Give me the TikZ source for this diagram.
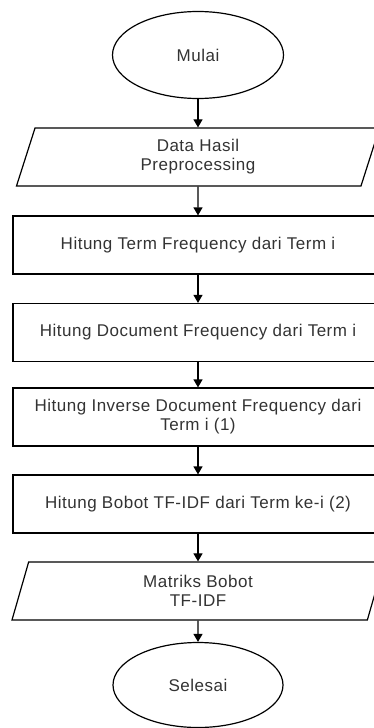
\documentclass[tikz,border=0pt]{standalone}
\usepackage{fontspec}
\setmainfont{Liberation Sans}[LetterSpace=3]
\usetikzlibrary{shapes.geometric,arrows.meta}
\definecolor{teks}{RGB}{51,51,51}

\begin{document}
\begin{tikzpicture}[x=1pt,y=-1pt,line width=1.2pt,
		>={Triangle[width=9pt,length=8pt]},
		every node/.style={font=\fontsize{17}{19}\selectfont, text=teks, inner sep=0pt, align=center},
		proses/.style={draw, rectangle, minimum width=370, minimum height=58},
		data/.style={draw, trapezium, trapezium left angle=62, trapezium right angle=118, trapezium stretches body, minimum height=58}]
		\useasboundingbox (0,0) rectangle (373,728);
		
		\node[draw, ellipse, minimum width=171, minimum height=87] (M) at (198,55) {Mulai};
		\node[data, minimum width=363] (D) at (198,157) {Data Hasil\\Preprocessing};
		\node[proses] (TF) at (198,245) {Hitung Term Frequency dari Term i};
		\node[proses] (DF) at (198,332.5) {Hitung Document Frequency dari Term i};
		\node[proses] (IDF) at (198,417) {Hitung Inverse Document Frequency dari\\Term i (1)};
		\node[proses] (B) at (198,504) {Hitung Bobot TF-IDF dari Term ke-i (2)};
		\node[data, minimum width=372] (MB) at (198,591) {Matriks Bobot\\TF-IDF};
		\node[draw, ellipse, minimum width=170, minimum height=85] (S) at (198,685) {Selesai};
		
		\path [->] (M) edge (D);
		\path [->] (D) edge (TF);
		\path [->] (TF) edge (DF);
		\path [->] (DF) edge (IDF);
		\path [->] (IDF) edge (B);
		\path [->] (B) edge (MB);
		\path [->] (MB) edge (S);
		\end{tikzpicture}
\end{document}
